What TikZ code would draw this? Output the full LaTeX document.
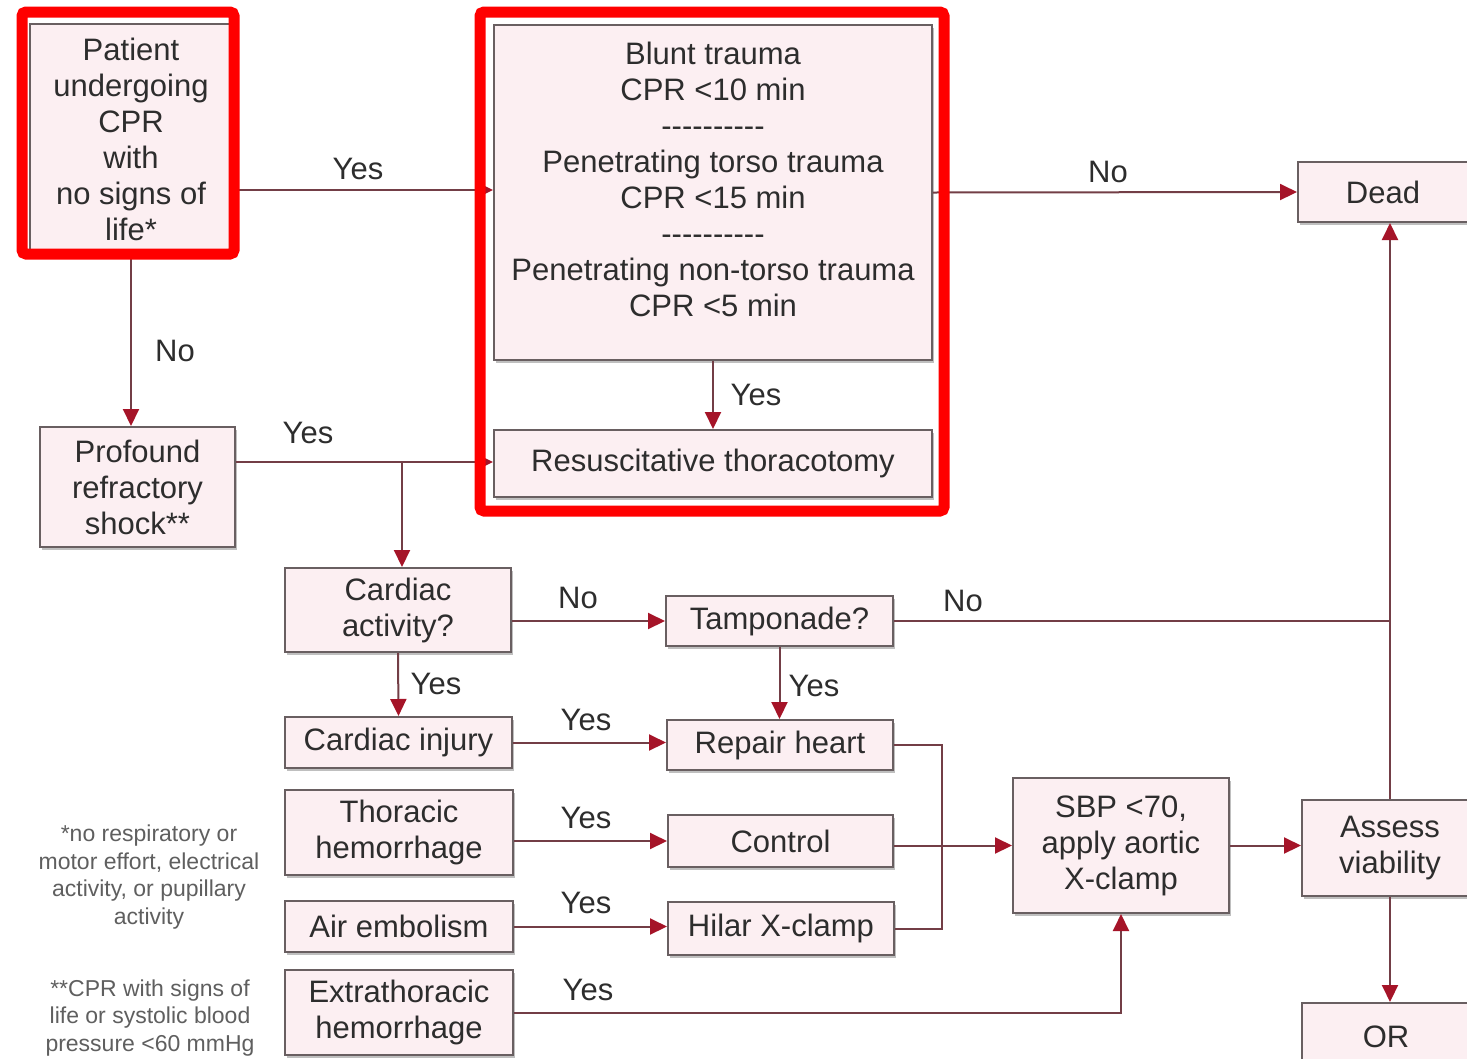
\documentclass[tikz,border=0pt]{standalone}
\usepackage{fontspec}
\setmainfont{Liberation Sans}
\usetikzlibrary{arrows.meta,shadows}
\definecolor{boxfill}{RGB}{252,239,242}
\definecolor{boxline}{RGB}{105,95,97}
\definecolor{linkcol}{RGB}{115,62,70}
\definecolor{tipred}{RGB}{165,20,40}
\definecolor{txt}{RGB}{45,45,45}
\definecolor{notecol}{RGB}{95,95,95}
\definecolor{hlred}{RGB}{255,0,0}
\newcommand\dashrow{-{}-{}-{}-{}-{}-{}-{}-{}-{}-}
\begin{document}
\begin{tikzpicture}[x=1pt,y=-1pt]
  \tikzstyle{box}=[draw=boxline,fill=boxfill,line width=2pt,inner sep=0pt,align=center,text=txt,
    font=\fontsize{31}{36}\selectfont,drop shadow={shadow xshift=1.5pt,shadow yshift=-2.5pt,fill=black,opacity=.25}]
  \tikzstyle{arr}=[-{Triangle[length=17pt,width=16pt,color=tipred]},draw=linkcol,line width=2pt]
  \tikzstyle{ln}=[draw=linkcol,line width=2pt]
  \tikzstyle{lab}=[text=txt,inner sep=0pt,font=\fontsize{31}{36}\selectfont]
  \tikzstyle{note}=[text=notecol,inner sep=0pt,align=center,font=\fontsize{23}{27.5}\selectfont]
  \tikzstyle{hl}=[draw=hlred,line width=11pt,rounded corners=4pt]

  \useasboundingbox[fill=white] (0,0) rectangle (1467,1058);

  % Top row
  \node[box,minimum width=202pt,minimum height=230pt] (pat) at (131,139)
    {Patient\\undergoing\\CPR\\with\\no signs of\\life*};
  \node[box,minimum width=438pt,minimum height=335pt,text depth=27pt] (blunt) at (713,192.5)
    {Blunt trauma\\CPR <10 min\\\dashrow\\Penetrating torso trauma\\CPR <15 min\\\dashrow\\Penetrating non-torso trauma\\CPR <5 min};
  \node[box,minimum width=438pt,minimum height=67pt] (resus) at (713,463.5) {Resuscitative thoracotomy};
  \node[box,minimum width=170pt,minimum height=60pt] (dead) at (1383,192) {Dead};
  \node[box,minimum width=195pt,minimum height=120pt] (prof) at (137.5,487) {Profound\\refractory\\shock**};

  % Left column
  \node[box,minimum width=226pt,minimum height=84pt] (cact) at (398,610) {Cardiac\\activity?};
  \node[box,minimum width=227pt,minimum height=51pt] (cinj) at (398.5,742.5) {Cardiac injury};
  \node[box,minimum width=228pt,minimum height=85pt] (thor) at (399,832.5) {Thoracic\\hemorrhage};
  \node[box,minimum width=228pt,minimum height=51pt] (air) at (399,926.5) {Air embolism};
  \node[box,minimum width=228pt,minimum height=85pt] (ext) at (399,1012.5) {Extrathoracic\\hemorrhage};

  % Middle column
  \node[box,minimum width=227pt,minimum height=50pt] (tamp) at (779.5,621) {Tamponade?};
  \node[box,minimum width=226pt,minimum height=50pt] (rep) at (780,745) {Repair heart};
  \node[box,minimum width=225pt,minimum height=52pt] (ctrl) at (780.5,841) {Control};
  \node[box,minimum width=226pt,minimum height=53pt] (hil) at (781,928.5) {Hilar X-clamp};

  % Right column
  \node[box,minimum width=216pt,minimum height=135pt] (sbp) at (1121,845.5) {SBP <70,\\apply aortic\\X-clamp};
  \node[box,minimum width=176pt,minimum height=96pt] (assess) at (1390,848) {Assess\\viability};
  \node[box,minimum width=168pt,minimum height=67pt] (or) at (1386,1036.5) {OR};

  % Footnotes
  \node[note] (fn1) at (149,877) {*no respiratory or\\motor effort, electrical\\activity, or pupillary\\activity};
  \node[note] (fn2) at (150,1018) {**CPR with signs of\\life or systolic blood\\pressure <60 mmHg};

  % Connectors
  \draw[arr] (pat.east |- 0,190) -- (blunt.west |- 0,190);
  \draw[arr] (pat.south) -- (prof.north -| pat.south);
  \draw[arr] (blunt.east) -- (dead.west);
  \draw[arr] (blunt.south) -- (resus.north);
  \coordinate (jprof) at (402,462);
  \draw[arr] (prof.east |- jprof) -- (resus.west |- jprof);
  \draw[arr] (jprof) -- (jprof |- cact.north);
  \draw[arr] (cact.east |- tamp.west) -- (tamp.west);
  \draw[ln] (tamp.east) -- (tamp.east -| assess.north);
  \draw[arr] (assess.north) -- (dead.south -| assess.north);
  \draw[arr] (cact.south) -- (cinj.north);
  \draw[arr] (tamp.south) -- (rep.north -| tamp.south);
  \draw[arr] (cinj.east) -- (rep.west |- cinj.east);
  \draw[arr] (thor.east |- ctrl.west) -- (ctrl.west);
  \draw[arr] (air.east) -- (hil.west |- air.east);
  \coordinate (bus) at (942,840);
  \draw[ln] (rep.east) -| (bus) |- (hil.east);
  \draw[arr] (ctrl.east |- sbp.west) -- (sbp.west);
  \draw[arr] (ext.east) -| (sbp.south);
  \draw[arr] (sbp.east) -- (assess.west |- sbp.east);
  \draw[arr] (assess.south) -- (or.north -| assess.south);

  % Labels
  \node[lab] (y1) at (358,169) {Yes};
  \node[lab] (n1) at (175,351) {No};
  \node[lab] (n2) at (1108,172) {No};
  \node[lab] (y2) at (756,395) {Yes};
  \node[lab] (y3) at (308,433) {Yes};
  \node[lab] (n3) at (578,598) {No};
  \node[lab] (n4) at (963,601) {No};
  \node[lab] (y4) at (436,684) {Yes};
  \node[lab] (y5) at (814,686) {Yes};
  \node[lab] (y6) at (586,720) {Yes};
  \node[lab] (y7) at (586,818) {Yes};
  \node[lab] (y8) at (586,903) {Yes};
  \node[lab] (y9) at (588,990) {Yes};

  % Highlights
  \draw[hl] (22,12) rectangle (234,254);
  \draw[hl] (480,12) rectangle (944,511);
\end{tikzpicture}
\end{document}
